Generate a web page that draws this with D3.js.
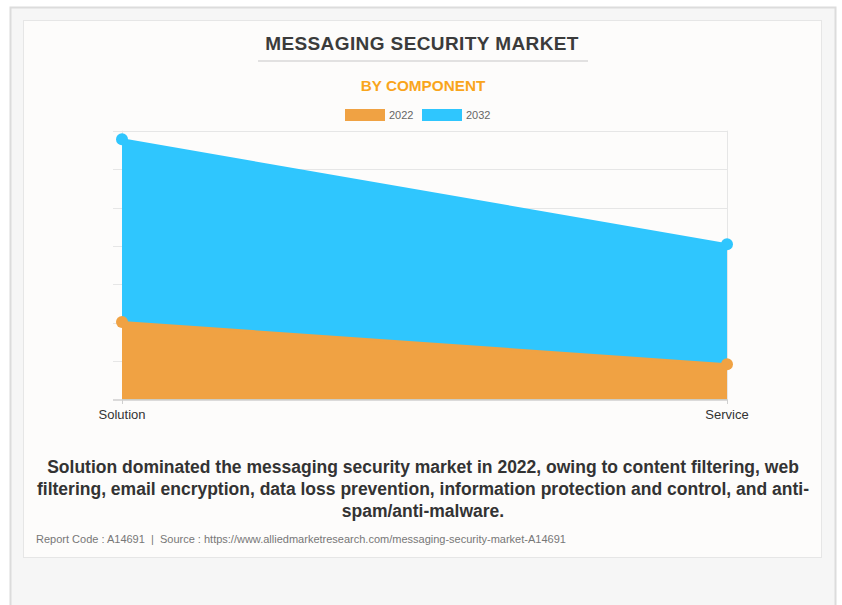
<!DOCTYPE html>
<html><head><meta charset="utf-8">
<script src="https://cdn.jsdelivr.net/npm/d3@7"></script>
<style>
html,body{margin:0;padding:0;background:#fff;}
svg{display:block;}
text{white-space:pre;}
</style></head>
<body>
<svg id="c" width="842" height="605"></svg>
<script>
const categories = ["Solution", "Service"];
const seriesNames = ["2022", "2032"];
const values2022 = [4.04, 1.84];
const values2032 = [13.55, 8.09];
const yTicks = [0, 2, 4, 6, 8, 10, 12, 14];
const colors = {"2022": "#F0A243", "2032": "#2FC6FE"};

const svg = d3.select("#c");
const F = "'Liberation Sans', Arial, sans-serif";

// outer frame
svg.append("rect").attr("x",10.5).attr("y",7.5).attr("width",825).attr("height",620)
  .attr("fill","#f6f6f6").attr("stroke","#dcdcdc").attr("stroke-width",2);
// inner card
svg.append("rect").attr("x",23.5).attr("y",20.5).attr("width",798).attr("height",537)
  .attr("fill","#fdfcfb").attr("stroke","#e6e6e6");

// title
svg.append("text").attr("x",422).attr("y",49.5).attr("text-anchor","middle")
  .attr("font-family",F).attr("font-weight","bold").attr("font-size",19).attr("letter-spacing",0.4).attr("fill","#3b3b3b")
  .text("MESSAGING SECURITY MARKET");
svg.append("line").attr("x1",258).attr("x2",588).attr("y1",61).attr("y2",61)
  .attr("stroke","#d9d9d9").attr("stroke-width",1.5);
svg.append("text").attr("x",423).attr("y",90.5).attr("text-anchor","middle")
  .attr("font-family",F).attr("font-weight","bold").attr("font-size",15.3).attr("fill","#F9A51C")
  .text("BY COMPONENT");

// legend
const legend = svg.append("g");
const legX = [345, 422];
seriesNames.forEach((s,i)=>{
  legend.append("rect").attr("x",legX[i]).attr("y",109).attr("width",40).attr("height",12)
    .attr("fill",colors[s]);
  legend.append("text").attr("x",legX[i]+44).attr("y",119).attr("font-family",F)
    .attr("font-size",11).attr("fill","#666").text(s);
});

// chart
const x = d3.scalePoint().domain(categories).range([122, 727]);
const y = d3.scaleLinear().domain([0, 14]).range([399.5, 130.7]);

// gridlines
svg.append("g").selectAll("line").data(yTicks.slice(1)).join("line")
  .attr("x1",113).attr("x2",728).attr("y1",d=>Math.round(y(d))+0.5).attr("y2",d=>Math.round(y(d))+0.5)
  .attr("stroke","#e6e6e6");
svg.append("line").attr("x1",727.5).attr("x2",727.5).attr("y1",y(14)).attr("y2",y(0)).attr("stroke","#e6e6e6");
svg.append("line").attr("x1",122.5).attr("x2",122.5).attr("y1",y(14)).attr("y2",y(0)).attr("stroke","#e6e6e6");

const area = d3.area().x((d,i)=>x(categories[i])).y0(y(0)).y1(d=>y(d));
const series = [["2032", values2032], ["2022", values2022]];
series.forEach(([s,v])=>{
  svg.append("path").attr("d",area(v)).attr("fill",colors[s]);
  svg.append("path").attr("d",d3.line().x((d,i)=>x(categories[i])).y(d=>y(d))(v))
    .attr("fill","none").attr("stroke",colors[s]).attr("stroke-width",2);
});
series.forEach(([s,v])=>{
  svg.append("g").selectAll("circle").data(v).join("circle")
    .attr("cx",(d,i)=>x(categories[i])).attr("cy",d=>y(d)).attr("r",6).attr("fill",colors[s]);
});

// x axis
svg.append("line").attr("x1",113).attr("x2",728).attr("y1",400).attr("y2",400).attr("stroke","#cfcfcf").attr("stroke-width",1.5);
const xAxis = svg.append("g");
categories.forEach(c=>{
  xAxis.append("line").attr("x1",x(c)+0.5).attr("x2",x(c)+0.5).attr("y1",400).attr("y2",404).attr("stroke","#cfcfcf");
  xAxis.append("text").attr("x",x(c)).attr("y",419).attr("text-anchor","middle")
    .attr("font-family",F).attr("font-size",13).attr("fill","#333").text(c);
});

// description
const desc = ["Solution dominated the messaging security market in 2022, owing to content filtering, web",
  "filtering, email encryption, data loss prevention, information protection and control, and anti-",
  "spam/anti-malware."];
desc.forEach((t,i)=>{
  svg.append("text").attr("x",423).attr("y",472.5+i*22).attr("text-anchor","middle")
    .attr("font-family",F).attr("font-weight","bold").attr("font-size",17.5).attr("fill","#333").text(t);
});
svg.append("text").attr("x",36).attr("y",543).attr("font-family",F).attr("font-size",11)
  .attr("fill","#777").text("Report Code : A14691  |  Source : https://www.alliedmarketresearch.com/messaging-security-market-A14691");
</script>
</body></html>
